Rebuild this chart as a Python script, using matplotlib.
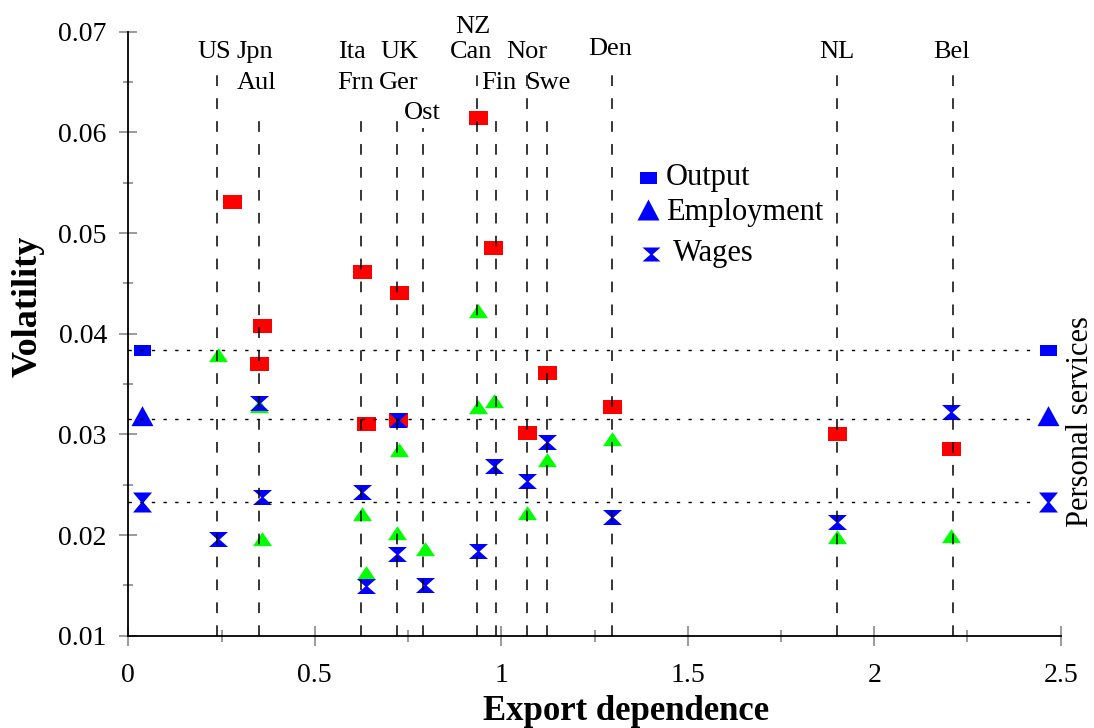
import numpy as np
import matplotlib
matplotlib.use("Agg")
import matplotlib.pyplot as plt
from matplotlib.path import Path

# ---------------- data ----------------
countries = ["US", "Jpn", "Aul", "Ita", "Frn", "UK", "Ger", "Ost",
             "NZ", "Can", "Fin", "Nor", "Swe", "Den", "NL", "Bel"]

# export dependence of the country reference lines
line_x = [0.237, 0.351, 0.625, 0.721, 0.791, 0.936, 0.985,
          1.068, 1.122, 1.296, 1.899, 2.212]

# Output volatility (red squares)
out_x = [0.278, 0.359, 0.351, 0.627, 0.637, 0.727, 0.724, 0.938,
         0.979, 1.070, 1.123, 1.298, 1.899, 2.207]
out_y = [0.0531, 0.0408, 0.0370, 0.0461, 0.0310, 0.0440, 0.0314, 0.0614,
         0.0485, 0.0301, 0.0361, 0.0327, 0.0300, 0.0285]

# Employment volatility (green triangles)
emp_x = [0.241, 0.351, 0.359, 0.626, 0.637, 0.727, 0.721, 0.795,
         0.938, 0.938, 0.981, 1.070, 1.123, 1.298, 1.899, 2.207]
emp_y = [0.0377, 0.0326, 0.0194, 0.0219, 0.0160, 0.0282, 0.0200, 0.0184,
         0.0421, 0.0325, 0.0331, 0.0220, 0.0273, 0.0293, 0.0196, 0.0197]

# Wage volatility (blue hourglasses)
wag_x = [0.241, 0.351, 0.358, 0.626, 0.637, 0.724, 0.721, 0.795,
         0.938, 0.981, 1.070, 1.123, 1.298, 1.899, 2.207]
wag_y = [0.0196, 0.0331, 0.0238, 0.0243, 0.0149, 0.0314, 0.0181, 0.0150,
         0.0184, 0.0269, 0.0254, 0.0292, 0.0218, 0.0213, 0.0322]

# Personal services reference values
ps_x = [0.038, 2.466]
ps_output = 0.0384
ps_employment = 0.0315
ps_wages = 0.0233

# ---------------- layout ----------------
line_top = [0.0665, 0.0620, 0.0620, 0.0620, 0.0604, 0.0665, 0.0620,
            0.0665, 0.0620, 0.0665, 0.0665, 0.0667]
label_pos = {
    "US": (0.2298, 0.06798), "Jpn": (0.3405, 0.06798), "Aul": (0.345, 0.0649),
    "Ita": (0.6005, 0.06798), "Frn": (0.6086, 0.0649), "UK": (0.7265, 0.06798),
    "Ger": (0.725, 0.0649), "Ost": (0.7882, 0.06192), "NZ": (0.925, 0.07047),
    "Can": (0.9196, 0.06798), "Fin": (0.9946, 0.0649), "Nor": (1.0697, 0.06798),
    "Swe": (1.1252, 0.0649), "Den": (1.2914, 0.06830), "NL": (1.9008, 0.06798),
    "Bel": (2.2075, 0.06798),
}

plt.rcParams['font.family'] = ['Liberation Serif', 'DejaVu Serif']

RED, GREEN, BLUE = "#FF0000", "#00FF00", "#0000FF"
PX2PT = 72.0 / 100.0


def marker(verts):
    v = np.array(verts + [verts[0]], dtype=float)
    m = np.abs(v).max()
    return Path(v, closed=True), 2 * m * PX2PT


def rect(w, h):
    return marker([(-w / 2, -h / 2), (w / 2, -h / 2), (w / 2, h / 2), (-w / 2, h / 2)])


def tri(w, h):
    return marker([(-w / 2, -h / 3), (w / 2, -h / 3), (0, 2 * h / 3)])


def hourglass(w, h):
    return marker([(-w / 2, h / 2), (w / 2, h / 2), (w * 0.06, 0),
                   (w / 2, -h / 2), (-w / 2, -h / 2), (-w * 0.06, 0)])


fig = plt.figure(figsize=(10.94, 7.28), dpi=100)
ax = fig.add_axes([128.3 / 1094, 1 - 635.7 / 728, (1060.7 - 128.3) / 1094, (635.7 - 31.7) / 728])

ax.set_xlim(0, 2.5)
ax.set_ylim(0.01, 0.07)

# markers
m, s = rect(19, 14)
ax.plot(out_x, out_y, ls='none', marker=m, ms=s, mfc=RED, mec=RED, mew=0, zorder=3, clip_on=False)
m, s = tri(19, 14)
ax.plot(emp_x, emp_y, ls='none', marker=m, ms=s, mfc=GREEN, mec=GREEN, mew=0, zorder=4, clip_on=False)
m, s = hourglass(19, 15)
ax.plot(wag_x, wag_y, ls='none', marker=m, ms=s, mfc=BLUE, mec=BLUE, mew=0, zorder=5, clip_on=False)

m, s = rect(17, 11)
ax.plot(ps_x, [ps_output] * 2, ls='none', marker=m, ms=s, mfc=BLUE, mew=0, zorder=5, clip_on=False)
m, s = tri(22, 20)
ax.plot(ps_x, [ps_employment] * 2, ls='none', marker=m, ms=s, mfc=BLUE, mew=0, zorder=5, clip_on=False)
m, s = hourglass(19, 20)
ax.plot(ps_x, [ps_wages] * 2, ls='none', marker=m, ms=s, mfc=BLUE, mew=0, zorder=5, clip_on=False)

# reference lines
ax.vlines(line_x, 0.01, line_top, colors='black', linewidth=1.1,
          linestyles=(0, (7.0, 8.0)), zorder=6)
ax.hlines([ps_output, ps_employment, ps_wages], 0.0, 2.42, colors='black',
          linewidth=1.0, linestyles=(0, (2.4, 6.0)), zorder=6)

# country labels
for c in countries:
    x, y = label_pos[c]
    ax.text(x, y, c, fontsize=19, ha='center', va='center', clip_on=False, zorder=7)

# legend (manual)
leg_items = [("Output", rect(17, 12), 0.5574, 0.7578, 0.5767),
             ("Employment", tri(22, 21), 0.5574, 0.6999, 0.5767),
             ("Wages", hourglass(18, 14), 0.5603, 0.6325, 0.5839)]
for lab, (mm, ss), mx, my, tx in leg_items:
    ax.plot([mx], [my], ls='none', marker=mm, ms=ss, mfc=BLUE, mew=0,
            transform=ax.transAxes, clip_on=False, zorder=7)
    ax.text(tx, my, lab, fontsize=22, ha='left', va='center', transform=ax.transAxes)

# axes styling
for sp in ['top', 'right']:
    ax.spines[sp].set_visible(False)
for sp in ['left', 'bottom']:
    ax.spines[sp].set_linewidth(1.3)
    ax.spines[sp].set_color('black')

ax.set_xticks(np.arange(0, 2.51, 0.5))
ax.set_xticks(np.arange(0, 2.51, 0.25), minor=True)
ax.set_yticks(np.arange(0.01, 0.0701, 0.01))
ax.set_yticks(np.arange(0.01, 0.0701, 0.005), minor=True)
ax.set_xticklabels(["0", "0.5", "1", "1.5", "2", "2.5"])
ax.set_yticklabels(["0.01", "0.02", "0.03", "0.04", "0.05", "0.06", "0.07"])
ax.tick_params(axis='both', which='both', direction='inout', color='#8a8a8a', width=1.2,
               labelsize=20)
ax.tick_params(axis='x', which='major', length=14, pad=13)
ax.tick_params(axis='x', which='minor', length=9)
ax.tick_params(axis='y', which='major', length=13, pad=9)
ax.tick_params(axis='y', which='minor', length=6.5)

fig.text(626 / 1094, 1 - 711 / 728, "Export dependence", fontsize=25, fontweight='bold',
         ha='center', va='center')
fig.text(28 / 1094, 1 - 306 / 728, "Volatility", fontsize=26, fontweight='bold',
         rotation=90, ha='center', va='center')
fig.text(1080 / 1094, 1 - 422 / 728, "Personal services", rotation=90, fontsize=22,
         ha='center', va='center')

fig.savefig("out.png", dpi=100)
